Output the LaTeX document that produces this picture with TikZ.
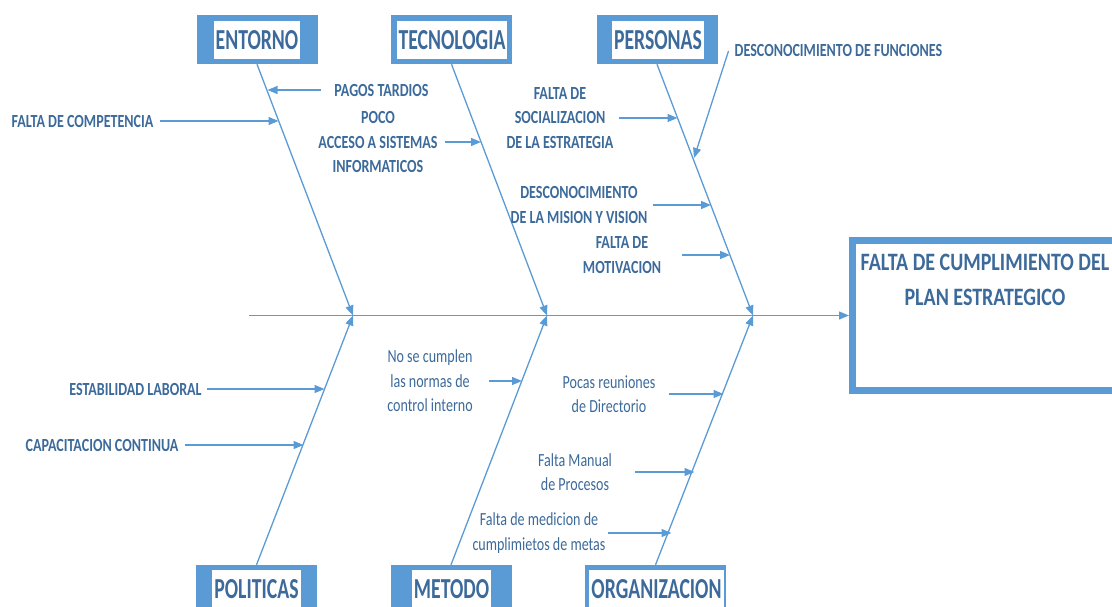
\documentclass[tikz,border=0pt]{standalone}
\usepackage{fontspec}
\setmainfont{Carlito}
\newfontfamily\catf{Carlito}[FakeStretch=0.68]
\newfontfamily\capf{Carlito}[FakeStretch=0.76]
\newfontfamily\lowf{Carlito}[FakeStretch=0.76]
\newfontfamily\efff{Carlito}[FakeStretch=0.80]
\usetikzlibrary{arrows.meta}
\definecolor{lineblue}{HTML}{5B9BD5}
\definecolor{txtblue}{HTML}{3C6A9B}
\begin{document}
\begin{tikzpicture}[x=1pt,y=-1pt,
 arr/.style={draw=lineblue, line width=1.3pt, -{Triangle[length=10pt,width=8pt]}},
 cat/.style={fill=lineblue, minimum width=121pt, minimum height=49pt, inner sep=0pt},
 catin/.style={fill=white, text=txtblue, inner sep=2pt, minimum height=38pt, font=\catf\bfseries\fontsize{29}{29}\selectfont},
 lab/.style={text=txtblue, inner sep=0pt, align=center, font=\capf\bfseries\fontsize{18.5}{24.5}\selectfont},
 lowlab/.style={text=txtblue, inner sep=0pt, align=center, font=\lowf\fontsize{18.5}{24.5}\selectfont},
 effbox/.style={draw=lineblue, line width=7pt, fill=white, minimum width=283pt, minimum height=150.5pt, inner sep=0pt},
 efflab/.style={text=txtblue, inner sep=0pt, align=center, font=\efff\bfseries\fontsize{25}{35}\selectfont}]
\useasboundingbox (0,0) rectangle (1112,607);
\clip (0,0) rectangle (1112,607);
% effect
\node[effbox] (eff) at (994,315.5) {};
\node[efflab] (efftxt) at (985,279.5) {FALTA DE CUMPLIMIENTO DEL\\PLAN ESTRATEGICO};
% spine and junctions
\coordinate (spS) at (249,315.5);
\coordinate (j1) at (353,315.5);
\coordinate (j2) at (547,315.5);
\coordinate (j3) at (753,315.5);
\draw[arr] (spS) -- (eff.west);
% category boxes
\node[cat] (entB) at (257,39.5) {};
\node[catin] (ent) at (257,40) {ENTORNO};
\node[cat] (tecB) at (451.5,39.5) {};
\node[catin] (tec) at (452,40) {TECNOLOGIA};
\node[cat] (perB) at (657,39.5) {};
\node[catin] (per) at (658,40) {PERSONAS};
\node[cat] (polB) at (256.5,589.5) {};
\node[catin] (pol) at (256.5,589) {POLITICAS};
\node[cat] (metB) at (451,589.5) {};
\node[catin] (met) at (451.5,589) {METODO};
\node[cat, minimum width=141pt] (orgB) at (655.5,589.5) {};
\node[catin] (org) at (656.5,589) {ORGANIZACION};
% bones
\draw[arr] (entB.south) -- (j1);
\draw[arr] (tecB.south) -- (j2);
\draw[arr] (perB.south) -- (j3);
\draw[arr] (polB.north) -- (j1);
\draw[arr] (metB.north) -- (j2);
\draw[arr] (orgB.north) -- (j3);
% bone targets
\coordinate (tPagos) at (267.5,90);
\coordinate (tComp) at (278.5,121);
\coordinate (tAcceso) at (481,142);
\coordinate (tSoc) at (677.5,118);
\coordinate (tFunc) at (694,158);
\coordinate (tMision) at (711,205);
\coordinate (tMotiv) at (730,255);
\coordinate (tEstab) at (324.5,389);
\coordinate (tCapac) at (303.5,445);
\coordinate (tNormas) at (522,381);
\coordinate (tPocas) at (723.5,394);
\coordinate (tManual) at (694.5,472);
\coordinate (tMedic) at (671.5,533);
% cause texts
\node[lab] (comp) at (82.5,121) {FALTA DE COMPETENCIA};
\node[lab] (pagos) at (381.5,90) {PAGOS TARDIOS};
\node[lab] (acceso) at (378,142) {POCO\\ACCESO A SISTEMAS\\INFORMATICOS};
\node[lab] (soc) at (560,118) {FALTA DE\\SOCIALIZACION\\DE LA ESTRATEGIA};
\node[lab] (func) at (838.5,51) {DESCONOCIMIENTO DE FUNCIONES};
\node[lab] (mision) at (579,205) {DESCONOCIMIENTO\\DE LA MISION Y VISION};
\node[lab] (motiv) at (622,255) {FALTA DE\\MOTIVACION};
\node[lab] (estab) at (135.5,389) {ESTABILIDAD LABORAL};
\node[lab] (capac) at (102,445) {CAPACITACION CONTINUA};
\node[lowlab] (normas) at (430,381) {No se cumplen\\las normas de\\control interno};
\node[lowlab] (pocas) at (609,394) {Pocas reuniones\\de Directorio};
\node[lowlab] (manual) at (575,472) {Falta Manual\\de Procesos};
\node[lowlab] (medic) at (539,533) {Falta de medicion de\\cumplimietos de metas};
% cause arrows
\draw[arr] ([xshift=-13pt]pagos.west) -- (tPagos);
\draw[arr] ([xshift=6pt]comp.east) -- (tComp);
\draw[arr] ([xshift=7pt]acceso.east) -- (tAcceso);
\draw[arr] ([xshift=5pt]soc.east) -- (tSoc);
\draw[arr] ([xshift=-6pt]func.west) -- (tFunc);
\draw[arr] ([xshift=5pt]mision.east) -- (tMision);
\draw[arr] ([xshift=21pt]motiv.east) -- (tMotiv);
\draw[arr] ([xshift=5pt]estab.east) -- (tEstab);
\draw[arr] ([xshift=6pt]capac.east) -- (tCapac);
\draw[arr] ([xshift=16pt]normas.east) -- (tNormas);
\draw[arr] ([xshift=13pt]pocas.east) -- (tPocas);
\draw[arr] ([xshift=23pt]manual.east) -- (tManual);
\draw[arr] ([xshift=2pt]medic.east) -- (tMedic);
\end{tikzpicture}
\end{document}
